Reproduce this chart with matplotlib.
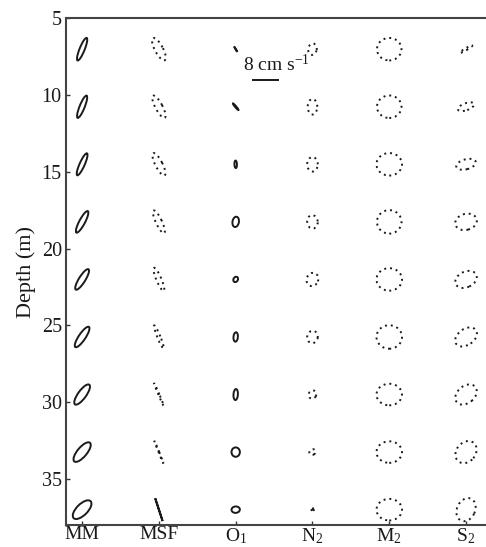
import matplotlib
matplotlib.use('Agg')
import matplotlib.pyplot as plt
from matplotlib.patches import Ellipse
from matplotlib.transforms import ScaledTranslation
import numpy as np

plt.rcParams['font.family'] = ['Liberation Serif', 'DejaVu Serif']
plt.rcParams['mathtext.fontset'] = 'custom'
plt.rcParams['mathtext.rm'] = 'Liberation Serif'
plt.rcParams['mathtext.it'] = 'Liberation Serif:italic'

# Tidal current ellipses by depth (semi-axes in cm/s, inclination in deg from east).
# Negative minor axis = clockwise rotation (dotted), positive = counterclockwise (solid).
constituents = ['MM', 'MSF', 'O$_1$', 'N$_2$', 'M$_2$', 'S$_2$']
depths = [7.0, 10.75, 14.5, 18.25, 22.0, 25.75, 29.5, 33.25, 37.0]

mm_major = [3.6, 3.55, 3.55, 3.6, 3.55, 3.6, 3.6, 3.6, 3.55]
mm_minor = [0.75, 0.75, 0.75, 0.85, 0.95, 1.0, 1.2, 1.4, 1.65]
mm_incl = [68, 68, 66, 62, 58, 56, 54, 50, 45]

msf_major = [3.7, 3.7, 3.7, 3.7, 3.7, 3.7, 3.7, 3.6, 3.55]
msf_minor = [-1.2, -1.05, -1.05, -0.9, -0.75, -0.45, -0.15, -0.1, 0.05]
msf_incl = [118, 118, 117, 115, 113, 112, 113, 112, 108]

o1_major = [0.86, 1.26, 1.11, 1.54, 0.83, 1.39, 1.63, 1.39, 1.24]
o1_minor = [0.06, 0.18, 0.37, 0.95, 0.65, 0.65, 0.65, 1.24, 0.95]
o1_incl = [121, 130, 92, 80, 60, 85, 86, 90, 5]

n2_major = [1.70, 2.30, 2.15, 2.00, 2.00, 1.85, 1.26, 0.96, 0.89]
n2_minor = [-1.26, -1.41, -1.56, -1.56, -1.70, -1.56, -1.11, -0.81, -0.30]
n2_incl = [80, 90, 90, 95, 70, 80, 60, 30, 110]

m2_major = [3.63, 3.63, 3.78, 3.63, 3.78, 3.78, 3.78, 3.78, 3.78]
m2_minor = [-3.33, -3.33, -3.33, -3.48, -3.33, -3.48, -3.19, -3.19, -3.19]
m2_incl = [0, 0, 0, 0, 0, 0, 0, 0, 0]

s2_major = [2.13, 2.52, 2.96, 3.26, 3.35, 3.56, 3.56, 3.56, 3.56]
s2_minor = [-0.3, -1.04, -1.48, -2.37, -2.31, -2.37, -2.52, -2.81, -2.67]
s2_incl = [30, 20, 15, 15, 25, 35, 40, 50, 65]

scale_speed = 8  # cm/s, length of the scale bar

ellipses = [
    (mm_major, mm_minor, mm_incl),
    (msf_major, msf_minor, msf_incl),
    (o1_major, o1_minor, o1_incl),
    (n2_major, n2_minor, n2_incl),
    (m2_major, m2_minor, m2_incl),
    (s2_major, s2_minor, s2_incl),
]

INCH_PER_CMS = 0.03375  # ellipse size on paper
ink = '#1a1a1a'

fig = plt.figure(figsize=(4.86, 5.47), dpi=100)
ax = fig.add_axes([0.1358, 0.0402, 0.8642, 0.926])
ax.set_xlim(0.79, 6.26)
ax.set_ylim(38, 5)
ax.autoscale(False)

for col, (major, minor, incl) in enumerate(ellipses, start=1):
    for d, a, b, th in zip(depths, major, minor, incl):
        offset = fig.dpi_scale_trans + ScaledTranslation(col, d, ax.transData)
        if b >= 0:
            style = dict(linestyle='-', linewidth=1.4)
        else:
            style = dict(linestyle=(0, (1, 2)), linewidth=1.4)
        e = Ellipse((0, 0), 2 * a * INCH_PER_CMS, max(2 * abs(b), 0.02) * INCH_PER_CMS,
                    angle=th, transform=offset, fill=False, edgecolor=ink, **style)
        ax.add_patch(e)

# scale bar
bar_off = fig.dpi_scale_trans + ScaledTranslation(3.21, 9.02, ax.transData)
ax.plot([0, scale_speed * INCH_PER_CMS], [0, 0], color=ink, lw=1.4,
        transform=bar_off, solid_capstyle='butt')
ax.text(3.095, 8.0, '8 cm s$^{-1}$', fontsize=14, ha='left', va='center', color=ink)

ax.set_xticks(range(1, len(constituents) + 1))
ax.set_xticklabels(constituents)
ax.set_yticks([5, 10, 15, 20, 25, 30, 35])
ax.tick_params(direction='in', length=3, width=1, color='#333333',
               labelsize=14.5, pad=3, labelcolor=ink)
ax.tick_params(axis='x', labelsize=14, pad=1)
ax.set_ylabel('Depth (m)', fontsize=16, color=ink, labelpad=4)

for side in ['left', 'top', 'bottom']:
    ax.spines[side].set_linewidth(1.5)
    ax.spines[side].set_color('#444444')
ax.spines['right'].set_visible(False)

fig.savefig('out.png', dpi=100)
